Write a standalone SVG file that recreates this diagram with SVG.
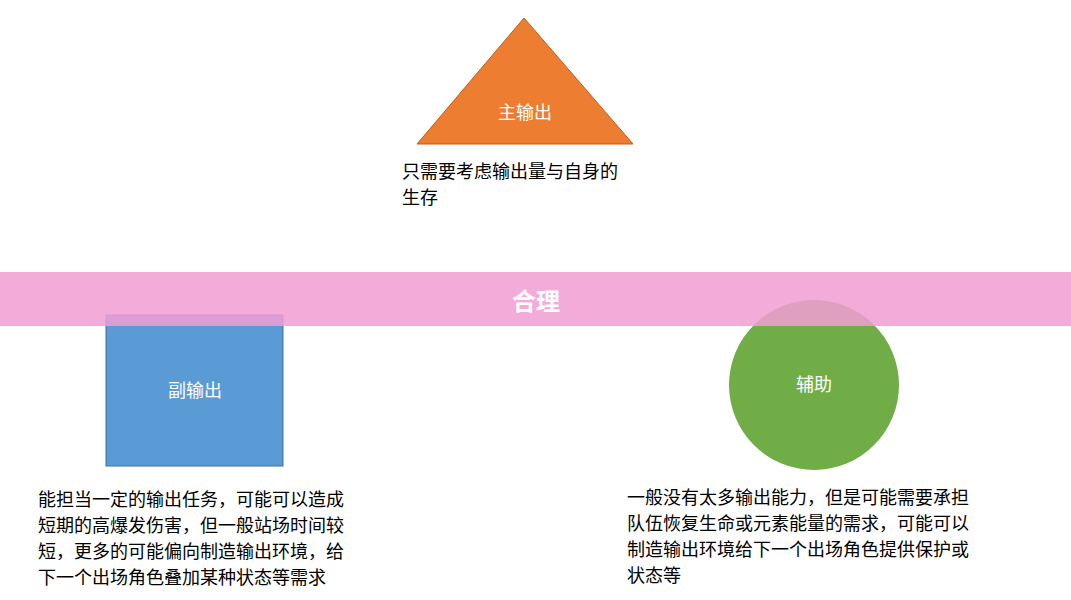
<svg xmlns="http://www.w3.org/2000/svg" width="1071" height="600" viewBox="0 0 1071 600">
<style>
.t{font-family:"Noto Sans CJK SC",sans-serif;font-size:18px;fill:#000}
.w{font-family:"Noto Sans CJK SC",sans-serif;font-size:18px;fill:#fff;text-anchor:middle}
</style>
<rect width="1071" height="600" fill="#fff"/>
<g id="main"><polygon points="524,18 417,144 633,144" fill="#ed7d31" stroke="#c55a11" stroke-width="1"/><text class="w" x="525" y="119">主输出</text></g>
<g id="sub"><rect x="106" y="315" width="177" height="151" fill="#5b9bd5" stroke="#41719c"/><text class="w" x="195" y="397">副输出</text></g>
<g id="support"><circle cx="814" cy="385" r="85" fill="#70ad47"/><text class="w" x="814" y="391">辅助</text></g>
<g id="band"><rect x="0" y="272" width="1071" height="54" fill="#f19ed3" fill-opacity="0.85"/><text x="536" y="310" font-family="Noto Sans CJK SC,sans-serif" font-size="24" font-weight="bold" fill="#fff" text-anchor="middle">合理</text></g>
<g id="texts">
<text class="t" x="402" y="178">只需要考虑输出量与自身的</text>
<text class="t" x="402" y="204">生存</text>
<text class="t" x="38" y="506">能担当一定的输出任务，可能可以造成</text>
<text class="t" x="38" y="532">短期的高爆发伤害，但一般站场时间较</text>
<text class="t" x="38" y="558">短，更多的可能偏向制造输出环境，给</text>
<text class="t" x="38" y="584">下一个出场角色叠加某种状态等需求</text>
<text class="t" x="627" y="504">一般没有太多输出能力，但是可能需要承担</text>
<text class="t" x="627" y="530">队伍恢复生命或元素能量的需求，可能可以</text>
<text class="t" x="627" y="556">制造输出环境给下一个出场角色提供保护或</text>
<text class="t" x="627" y="582">状态等</text>
</g>
</svg>
